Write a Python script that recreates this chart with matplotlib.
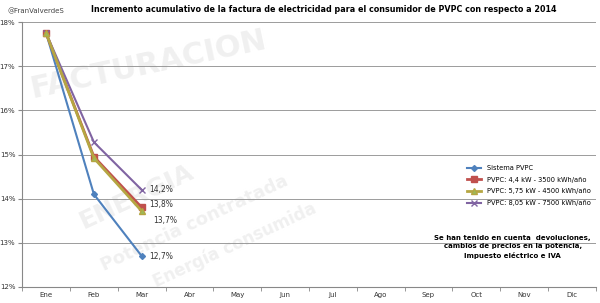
import matplotlib.pyplot as plt
import numpy as np

# datos
meses = ["Ene", "Feb", "Mar", "Abr", "May", "Jun", "Jul", "Ago", "Sep", "Oct", "Nov", "Dic"]
sistema = [17.75, 14.1, 12.7]
pvpc_44 = [17.75, 14.95, 13.8]
pvpc_575 = [17.75, 14.92, 13.72]
pvpc_805 = [17.75, 15.28, 14.2]
etiquetas = ["12,7%", "13,8%", "13,7%", "14,2%"]

fig = plt.figure(figsize=(6, 3.03), dpi=100)
ax = fig.add_axes([0.037, 0.053, 0.956, 0.874])

# marca de agua tenue
for txt, x, y, s, r in [("FACTURACION", 0.22, 0.84, 22, 12), ("ENERGIA", 0.2, 0.34, 18, 25),
                        ("Potencia contratada", 0.3, 0.24, 13, 25), ("Energía consumida", 0.37, 0.16, 12, 25)]:
    ax.text(x, y, txt, transform=ax.transAxes, fontsize=s, color="#f0f0f0", rotation=r,
            fontweight="bold", ha="center", va="center", zorder=0)

x = np.arange(3)
ax.plot(x, sistema, color="#4F81BD", marker="D", ms=3, lw=1.5, label="Sistema PVPC", zorder=3)
ax.plot(x, pvpc_44, color="#C0504D", marker="s", ms=5, lw=2, label="PVPC: 4,4 kW - 3500 kWh/año", zorder=3)
ax.plot(x, pvpc_575, color="#B5A642", marker="^", ms=4, lw=2, label="PVPC: 5,75 kW - 4500 kWh/año", zorder=4,
        markerfacecolor="#9BBB59")
ax.plot(x, pvpc_805, color="#8064A2", marker="x", ms=4, lw=1.5, label="PVPC: 8,05 kW - 7500 kWh/año", zorder=3)

ax.text(2.15, sistema[2], etiquetas[0], fontsize=5.5, va="center", color="#333333")
ax.text(2.15, pvpc_44[2] + 0.07, etiquetas[1], fontsize=5.5, va="center", color="#333333")
ax.text(2.25, pvpc_575[2] - 0.22, etiquetas[2], fontsize=5.5, va="center", color="#333333")
ax.text(2.15, pvpc_805[2], etiquetas[3], fontsize=5.5, va="center", color="#333333")

ax.set_xlim(-0.5, 11.5)
ax.set_ylim(12, 18)
ax.set_xticks(np.arange(12))
ax.set_xticklabels(meses, fontsize=5, color="#333333")
ax.set_xticks(np.arange(-0.5, 12, 1), minor=True)
ax.tick_params(axis="x", which="major", length=0, pad=4)
ax.tick_params(axis="x", which="minor", length=3, color="#888888")
ax.set_yticks(np.arange(12, 19))
ax.set_yticklabels([f"{v}%" for v in range(12, 19)], fontsize=5, color="#333333")
ax.tick_params(axis="y", length=3, color="#888888", pad=2)
ax.grid(axis="y", color="#8c8c8c", lw=0.6)
ax.set_axisbelow(True)
for s in ["top", "right"]:
    ax.spines[s].set_visible(False)
ax.spines["left"].set_color("#888888")
ax.spines["bottom"].set_color("#888888")
ax.set_facecolor("none")

leg = ax.legend(loc="upper left", bbox_to_anchor=(0.77, 0.47), fontsize=4.8, frameon=False,
                handlelength=2.2, labelspacing=0.85, borderaxespad=0)

ax.text(0.855, 0.15, "Se han tenido en cuenta  devoluciones,\ncambios de precios en la potencia,\nImpuesto eléctrico e IVA",
        transform=ax.transAxes, fontsize=5, fontweight="bold", ha="center", va="center", linespacing=1.5)

fig.text(0.013, 0.965, "@FranValverdeS", fontsize=5, color="#444444", va="center")
fig.text(0.54, 0.968, "Incremento acumulativo de la factura de electricidad para el consumidor de PVPC con respecto a 2014",
         fontsize=5.8, fontweight="bold", ha="center", va="center")

fig.savefig("out.png", dpi=100)
